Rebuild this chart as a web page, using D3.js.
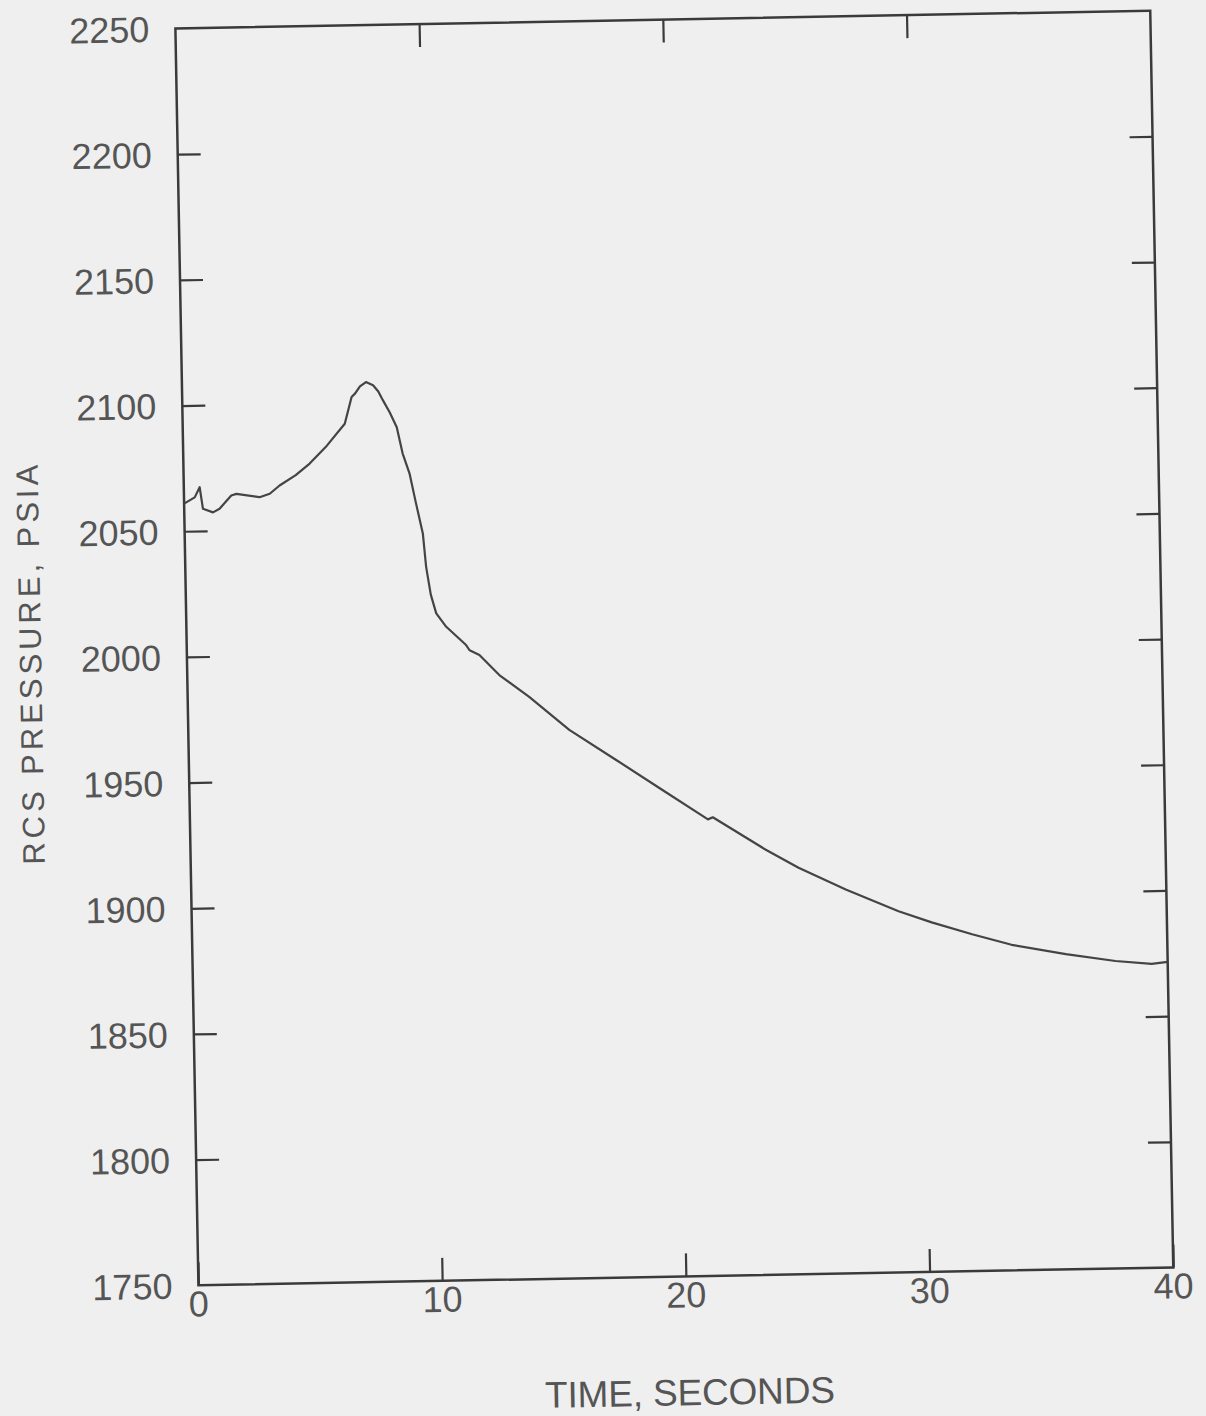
<!DOCTYPE html>
<html>
<head>
<meta charset="utf-8">
<script src="https://cdn.jsdelivr.net/npm/d3@7"></script>
<style>
  html, body { margin: 0; padding: 0; background: #efefef; }
  #screen { width: 1206px; height: 1416px; }
</style>
</head>
<body>
<div id="screen"></div>
<script>
// values
const timeSec = [0, 0.44, 0.65, 0.77, 1.18, 1.45, 1.94, 2.15, 3.1, 3.52, 3.93, 4.6, 5.18, 5.9, 6.65, 6.95, 7.1, 7.3, 7.55, 7.84, 8.05, 8.23,
    8.5, 8.78, 9.0, 9.27, 9.5, 9.77, 9.88, 10.05, 10.26, 10.66, 11.46, 11.6, 12.0, 12.8, 14.01, 15.63, 17.53, 19.39, 21.25, 21.45,
    23.6, 24.93, 26.85, 29.0, 30.35, 32.0, 33.61, 35.83, 37.86, 39.34, 40];
const pressure = [2061, 2063.4, 2067.4, 2058.8, 2057.3, 2058.7, 2063.9, 2064.5, 2063, 2064.3, 2067.5, 2071.5, 2076, 2083, 2091.6,
    2102.2, 2103.6, 2106.3, 2108, 2106.7, 2104.2, 2100.7, 2095.8, 2089.8, 2079.4, 2071.3, 2060, 2047.4, 2034.1, 2023, 2015.5,
    2010.1, 2002.7, 2000.6, 1998.6, 1990.5, 1981.6, 1968.2, 1955.9, 1943.7, 1931.6, 1932.4, 1919.1, 1911.7, 1902.7, 1893.7,
    1889, 1884, 1879.5, 1875.4, 1872.3, 1870.9, 1871.6];

const xTicks = [0, 10, 20, 30, 40];
const yTicks = [1750, 1800, 1850, 1900, 1950, 2000, 2050, 2100, 2150, 2200, 2250];
const xTitle = "TIME, SECONDS";
const yTitle = "RCS PRESSURE, PSIA";

var W = 1206, H = 1416;
var plotLeft = 187, plotTop = 19.5, plotW = 975, plotH = 1257;
var tickLen = 23;
var ink = "#3a3a3a";
var textInk = "#555";
var font = "'Liberation Sans', Arial, sans-serif";

const initD3 = function() {
    var svg = d3.select("#screen").append("svg")
        .attr("width", W).attr("height", H);
    svg.append("rect").attr("width", W).attr("height", H).attr("fill", "#efefef");
    // the scan is tilted about a degree
    return svg.append("g")
        .attr("transform", "rotate(-1.05," + (plotLeft + plotW / 2) + "," + (plotTop + plotH / 2 + 9) + ")");
};

var g = initD3();

var x = d3.scaleLinear().domain([0, 40]).range([plotLeft, plotLeft + plotW]);
var y = d3.scaleLinear().domain([1750, 2250]).range([plotTop + plotH, plotTop]);

// frame
g.append("rect")
    .attr("x", plotLeft).attr("y", plotTop)
    .attr("width", plotW).attr("height", plotH)
    .attr("fill", "none")
    .attr("stroke", ink)
    .attr("stroke-width", 2.5);

// inward ticks on all four sides
var axisBottom = d3.axisBottom(x).tickValues(xTicks).tickSizeInner(-tickLen).tickSizeOuter(0).tickFormat("");
var axisTop = d3.axisTop(x).tickValues(xTicks.slice(1, -1)).tickSizeInner(-tickLen).tickSizeOuter(0).tickFormat("");
var axisLeft = d3.axisLeft(y).tickValues(yTicks.slice(1, -1)).tickSizeInner(-tickLen).tickSizeOuter(0).tickFormat("");
var axisRight = d3.axisRight(y).tickValues(yTicks.slice(1, -1)).tickSizeInner(-tickLen).tickSizeOuter(0).tickFormat("");

var gb = g.append("g").attr("transform", "translate(0," + (plotTop + plotH) + ")").call(axisBottom);
var gt = g.append("g").attr("transform", "translate(0," + plotTop + ")").call(axisTop);
var gl = g.append("g").attr("transform", "translate(" + plotLeft + ",0)").call(axisLeft);
var gr = g.append("g").attr("transform", "translate(" + (plotLeft + plotW) + ",0)").call(axisRight);

[gb, gt, gl, gr].forEach(function(a) {
    a.select(".domain").remove();
    a.selectAll(".tick line").attr("stroke", ink).attr("stroke-width", 2.2);
});

// tick labels
g.selectAll(".ylab").data(yTicks).enter().append("text")
    .attr("class", "ylab")
    .attr("x", plotLeft - 26)
    .attr("y", d => y(d))
    .attr("dy", "0.36em")
    .attr("text-anchor", "end")
    .style("font-family", font)
    .style("font-size", "36px")
    .attr("fill", textInk)
    .text(d => d);

g.selectAll(".xlab").data(xTicks).enter().append("text")
    .attr("class", "xlab")
    .attr("x", d => x(d))
    .attr("y", plotTop + plotH + 18)
    .attr("dy", "0.36em")
    .attr("text-anchor", "middle")
    .style("font-family", font)
    .style("font-size", "36px")
    .attr("fill", textInk)
    .text(d => d);

// axis titles
g.append("text")
    .attr("x", plotLeft + plotW / 2 + 2)
    .attr("y", 1392)
    .attr("dy", "0.36em")
    .attr("text-anchor", "middle")
    .attr("textLength", 290)
    .attr("lengthAdjust", "spacing")
    .style("font-family", font)
    .style("font-size", "37px")
    .attr("fill", textInk)
    .text(xTitle);

g.append("text")
    .attr("transform", "translate(30,653) rotate(-90)")
    .attr("dy", "0.36em")
    .attr("text-anchor", "middle")
    .attr("textLength", 400)
    .attr("lengthAdjust", "spacing")
    .style("font-family", font)
    .style("font-size", "31px")
    .attr("fill", textInk)
    .text(yTitle);

// pressure trace, plotted as straight segments like the original pen plot
var pts = timeSec.map((t, i) => [t, pressure[i]]);
var line = d3.line()
    .x(d => x(d[0]))
    .y(d => y(d[1]))
    .curve(d3.curveLinear);

g.append("path")
    .datum(pts)
    .attr("d", line)
    .attr("fill", "none")
    .attr("stroke", "#444")
    .attr("stroke-width", 2.2)
    .attr("stroke-linejoin", "round");
</script>
</body>
</html>
